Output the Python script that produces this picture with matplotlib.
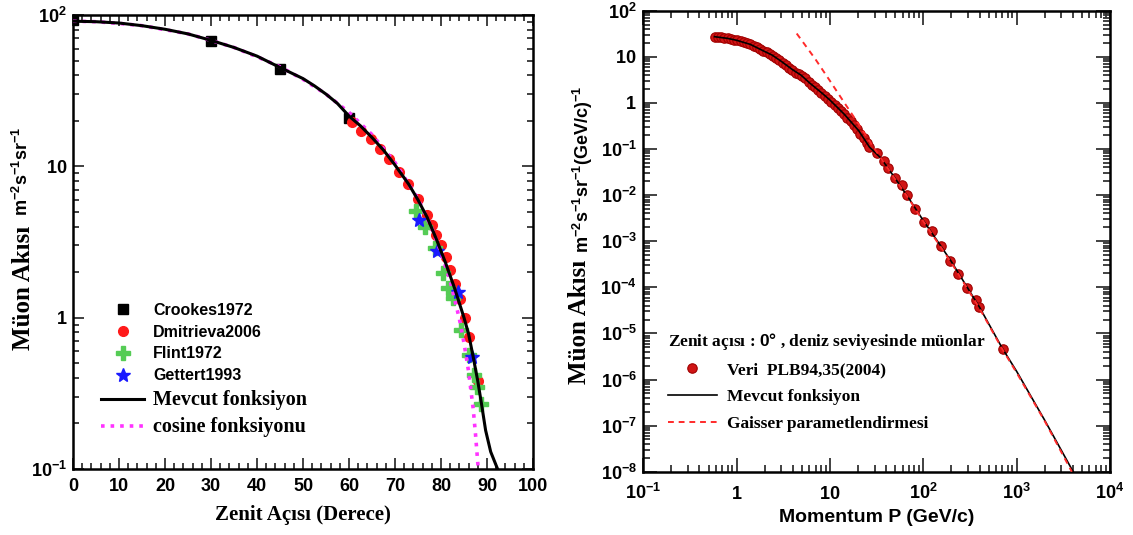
import matplotlib
matplotlib.use('Agg')
import matplotlib.pyplot as plt
from matplotlib.ticker import FixedLocator, LogLocator, NullFormatter

plt.rcParams['mathtext.fontset'] = 'custom'
plt.rcParams['mathtext.rm'] = 'Liberation Sans'
plt.rcParams['mathtext.bf'] = 'Liberation Sans:bold'
plt.rcParams['mathtext.it'] = 'Liberation Sans:italic'
plt.rcParams['font.family'] = ['Liberation Sans', 'DejaVu Sans']

# ---------------- Left panel data (zenith angle distribution) ----------------
crookes_angle = [0, 30, 45, 60]
crookes_flux = [93, 67.6, 43.8, 20.8]

dmitrieva_angle = [60.7, 62.7, 64.8, 66.8, 68.8, 70.9, 72.9, 74.9, 76.9, 78.1,
                   79.0, 80.0, 81.0, 82.0, 83.1, 84.1, 85.2, 86.1, 88.0]
dmitrieva_flux = [19.5, 17.1, 15.1, 13.1, 11.1, 9.2, 7.7, 6.1, 4.75, 4.1,
                  3.5, 3.0, 2.5, 2.07, 1.66, 1.32, 1.0, 0.75, 0.38]

flint_angle = [74.5, 76.5, 78.6, 80.5, 81.6, 82.5, 84.4, 86.0, 87.2, 87.8, 88.7]
flint_flux = [5.1, 4.0, 2.87, 1.98, 1.56, 1.34, 0.83, 0.57, 0.42, 0.35, 0.27]

gettert_angle = [75.3, 79.1, 83.6, 86.8]
gettert_flux = [4.4, 2.74, 1.48, 0.55]

mevcut_angle = [0, 5, 10, 15, 20, 25, 30, 35, 40, 45, 50, 52.5, 55, 57.5, 60,
                62.5, 65, 67.5, 70, 73, 75, 77, 79, 81, 83, 85, 86, 87, 88, 88.8,
                89.7, 90.8, 92.3]
mevcut_flux = [91, 90.3, 88.5, 85, 80.5, 75, 68, 61, 53.5, 45, 38, 34, 30, 26,
               21.5, 18.5, 15.5, 12.8, 10.2, 7.6, 6.0, 4.6, 3.3, 2.3, 1.55, 1.0,
               0.78, 0.55, 0.38, 0.27, 0.18, 0.13, 0.1]

cosine_angle = [0, 5, 10, 15, 20, 25, 30, 35, 40, 45, 50, 55, 60, 65, 70, 75,
                78, 80, 82, 84, 85, 86, 87, 87.5, 88.1]
cosine_flux = [91, 90.3, 88, 85, 80, 75, 68, 61, 53, 45.5, 37.6, 30, 22.7, 16.2,
               10.6, 6.1, 3.9, 2.7, 1.75, 0.98, 0.68, 0.44, 0.25, 0.17, 0.1]

left_xticks = [0, 10, 20, 30, 40, 50, 60, 70, 80, 90, 100]
left_xticklabels = ['0', '10', '20', '30', '40', '50', '60', '70', '80', '90', '100']
left_yticks = [0.1, 1, 10, 100]
left_yticklabels = [r'$\mathbf{10^{-1}}$', r'$\mathbf{1}$', r'$\mathbf{10}$', r'$\mathbf{10^{2}}$']

# ---------------- Right panel data (momentum spectrum) ----------------
veri_p = [0.58, 0.63, 0.68, 0.74, 0.80, 0.87, 0.94, 1.02, 1.10, 1.19, 1.29, 1.40,
          1.52, 1.64, 1.78, 1.93, 2.09, 2.26, 2.45, 2.65, 2.87, 3.11, 3.37, 3.65,
          3.95, 4.28, 4.63, 5.0, 5.4, 5.9, 6.4, 6.9, 7.5, 8.1, 8.8, 9.5, 10.3,
          11.2, 12.1, 13.1, 14.2, 15.4, 16.7, 18.1, 19.6, 21.2, 23.0, 24.8, 26.5,
          31.7, 37.8, 42, 49.4, 58.9, 67.5, 80.7, 102.6, 123.6, 153, 193, 234,
          296, 370, 393, 713]
veri_flux = [27.3, 26.9, 26.4, 25.8, 25.1, 24.3, 23.5, 22.6, 21.6, 20.6, 19.6, 18.5,
             17.3, 16.1, 14.9, 13.6, 12.4, 11.3, 10.6, 9.5, 8.5, 7.5, 6.6, 5.8,
             5.1, 4.5, 4.2, 3.9, 3.4, 2.9, 2.5, 2.2, 1.9, 1.65, 1.42, 1.23, 1.06,
             0.91, 0.78, 0.67, 0.57, 0.48, 0.40, 0.33, 0.27, 0.21, 0.17, 0.135, 0.11,
             0.081, 0.055, 0.038, 0.023, 0.0166, 0.01, 0.005, 0.00265, 0.00169,
             0.00079, 0.00037, 0.000195, 9.5e-5, 5.3e-5, 3.8e-5, 4.7e-6]

fonk_p = [0.58, 0.8, 1.0, 1.4, 2.0, 2.4, 3.0, 4.0, 4.9, 6.0, 8.3, 10, 14.2, 20.3,
          26.5, 35, 50, 70, 100, 150, 200, 300, 400, 700, 1000, 2000, 4030]
fonk_flux = [27.3, 25.1, 22.8, 18.6, 13.0, 10.9, 8.0, 5.2, 4.0, 2.75, 1.6, 1.15,
             0.57, 0.25, 0.11, 0.064, 0.023, 0.0085, 0.0028, 0.00085, 0.00036,
             9.5e-5, 3.7e-5, 4.8e-6, 1.5e-6, 1.3e-7, 1e-8]

gaisser_p = [4.4, 7, 10, 14.2, 20, 26.4, 35, 50, 70, 100, 200, 400, 700, 1000,
             2000, 3900]
gaisser_flux = [32, 8.8, 3.0, 1.02, 0.36, 0.15, 0.064, 0.022, 0.0083, 0.0027,
                0.00034, 3.5e-5, 4.6e-6, 1.4e-6, 1.25e-7, 1e-8]

right_xticks = [0.1, 1, 10, 100, 1000, 10000]
right_xticklabels = [r'$\mathbf{10^{-1}}$', r'$\mathbf{1}$', r'$\mathbf{10}$',
                     r'$\mathbf{10^{2}}$', r'$\mathbf{10^{3}}$', r'$\mathbf{10^{4}}$']
right_yticks = [1e-8, 1e-7, 1e-6, 1e-5, 1e-4, 1e-3, 1e-2, 1e-1, 1, 10, 100]
right_yticklabels = [r'$\mathbf{10^{-8}}$', r'$\mathbf{10^{-7}}$', r'$\mathbf{10^{-6}}$',
                     r'$\mathbf{10^{-5}}$', r'$\mathbf{10^{-4}}$', r'$\mathbf{10^{-3}}$',
                     r'$\mathbf{10^{-2}}$', r'$\mathbf{10^{-1}}$', r'$\mathbf{1}$',
                     r'$\mathbf{10}$', r'$\mathbf{10^{2}}$']

W, H = 1133, 535
fig = plt.figure(figsize=(W / 100, H / 100), dpi=100)

def frac(x0, y_top, x1, y_bot):
    return [x0 / W, 1 - y_bot / H, (x1 - x0) / W, (y_bot - y_top) / H]

serif_b = {'family': 'Liberation Serif', 'weight': 'bold'}

# ================= Left panel =================
ax1 = fig.add_axes(frac(73, 15, 533, 469))
ax1.plot(crookes_angle, crookes_flux, 's', color='black', ms=7, zorder=2, label='Crookes1972')
ax1.plot(dmitrieva_angle, dmitrieva_flux, 'o', color='#ff1a1a', mec='#ff1a1a', ms=7, zorder=2, label='Dmitrieva2006')
ax1.plot(flint_angle, flint_flux, 'P', color='#55cc55', mec='#55cc55', ms=9.5, zorder=2, label='Flint1972')
ax1.plot(gettert_angle, gettert_flux, '*', color='#1a1aff', mec='#1a1aff', ms=10, zorder=2, label='Gettert1993')
ax1.plot(mevcut_angle, mevcut_flux, '-', color='black', lw=2.2, zorder=4, label='Mevcut fonksiyon')
ax1.plot(cosine_angle, cosine_flux, ':', color='#ff33ff', lw=2.6, zorder=3, label='cosine fonksiyonu')
ax1.set_yscale('log')
ax1.set_xlim(0, 100)
ax1.set_ylim(0.1, 100)
ax1.set_xticks(left_xticks, left_xticklabels)
ax1.xaxis.set_minor_locator(FixedLocator(list(range(0, 101, 2))))
ax1.set_yticks(left_yticks, left_yticklabels)
ax1.yaxis.set_minor_locator(LogLocator(base=10, subs=range(2, 10)))
ax1.yaxis.set_minor_formatter(NullFormatter())
ax1.tick_params(which='both', direction='in', top=True, right=True, width=1.3, color='#333333')
ax1.tick_params(which='major', length=8)
ax1.tick_params(which='minor', length=4.5)
ax1.tick_params(axis='x', pad=6.5, labelsize=13)
ax1.tick_params(axis='y', pad=4.3, labelsize=13)
for t in ax1.get_xticklabels():
    t.set_fontweight('bold')
for s in ax1.spines.values():
    s.set_linewidth(1.8)

leg1 = ax1.legend(loc='upper left', bbox_to_anchor=((101 - 73) / 460, (469 - 303) / 454),
                  frameon=False, prop={'family': 'Liberation Sans', 'weight': 'bold', 'size': 11.5},
                  handlelength=2.7, handletextpad=0.55, labelspacing=0.42,
                  borderpad=0, borderaxespad=0)
for t in leg1.get_texts()[4:]:
    t.set_fontfamily('Liberation Serif')
    t.set_fontsize(14.5)

ax1.text(0.5, -46 / 454, 'Zenit Açısı (Derece)', transform=ax1.transAxes,
         ha='center', va='center', fontsize=15, **serif_b)
fig.text(23 / W, 1 - 288 / H, 'Müon Akısı', rotation=90, ha='center', va='center',
         fontsize=18, **serif_b)
fig.text(22 / W, 1 - 171 / H, r'$\mathbf{m^{-2}s^{-1}sr^{-1}}$', rotation=90,
         ha='center', va='center', fontsize=13)

# ================= Right panel =================
ax2 = fig.add_axes(frac(643.3, 10.7, 1110, 471.7))
ax2.plot(veri_p, veri_flux, 'o', color='#d01515', mec='#a00000', mew=0.8, ms=6.8, zorder=2,
         label='Veri  PLB94,35(2004)')
ax2.plot(fonk_p, fonk_flux, '-', color='black', lw=1.2, zorder=3, label='Mevcut fonksiyon')
ax2.plot(gaisser_p, gaisser_flux, '--', color='#ff2a2a', lw=1.4, dashes=(3, 2.5), zorder=4,
         label='Gaisser parametlendirmesi')
ax2.set_xscale('log')
ax2.set_yscale('log')
ax2.set_xlim(0.1, 1e4)
ax2.set_ylim(1e-8, 1e2)
ax2.set_xticks(right_xticks, right_xticklabels)
ax2.set_yticks(right_yticks, right_yticklabels)
ax2.xaxis.set_minor_locator(LogLocator(base=10, subs=range(2, 10)))
ax2.yaxis.set_minor_locator(LogLocator(base=10, subs=range(2, 10), numticks=30))
ax2.xaxis.set_minor_formatter(NullFormatter())
ax2.yaxis.set_minor_formatter(NullFormatter())
ax2.tick_params(which='both', direction='in', top=True, right=True, width=1.3, color='#333333')
ax2.tick_params(which='major', length=10)
ax2.tick_params(which='minor', length=5)
ax2.tick_params(axis='x', pad=20, labelsize=13)
ax2.tick_params(axis='y', pad=4.7, labelsize=13)
for t in ax2.get_xticklabels():
    t.set_va('baseline')
for s in ax2.spines.values():
    s.set_linewidth(1.8)

leg2 = ax2.legend(loc='upper left', bbox_to_anchor=((668 - 643.3) / 466.7, (471.7 - 331) / 461),
                  frameon=False, prop={'family': 'Liberation Serif', 'weight': 'bold', 'size': 12.5},
                  title=r'Zenit açısı : $\mathbf{0°}$ , deniz seviyesinde müonlar',
                  title_fontproperties={'family': 'Liberation Serif', 'weight': 'bold', 'size': 12.5},
                  alignment='left', handlelength=2.8, handletextpad=0.6, labelspacing=0.6,
                  borderpad=0, borderaxespad=0)

ax2.text(0.5, -46 / 461, 'Momentum P (GeV/c)', transform=ax2.transAxes,
         ha='center', va='center', fontsize=14, fontweight='bold')
fig.text(580 / W, 1 - 322 / H, 'Müon Akısı', rotation=90, ha='center', va='center',
         fontsize=18, **serif_b)
fig.text(583 / W, 1 - 169 / H, r'$\mathbf{m^{-2}s^{-1}sr^{-1}(GeV/c)^{-1}}$', rotation=90,
         ha='center', va='center', fontsize=13)

fig.savefig('out.png', dpi=100)
